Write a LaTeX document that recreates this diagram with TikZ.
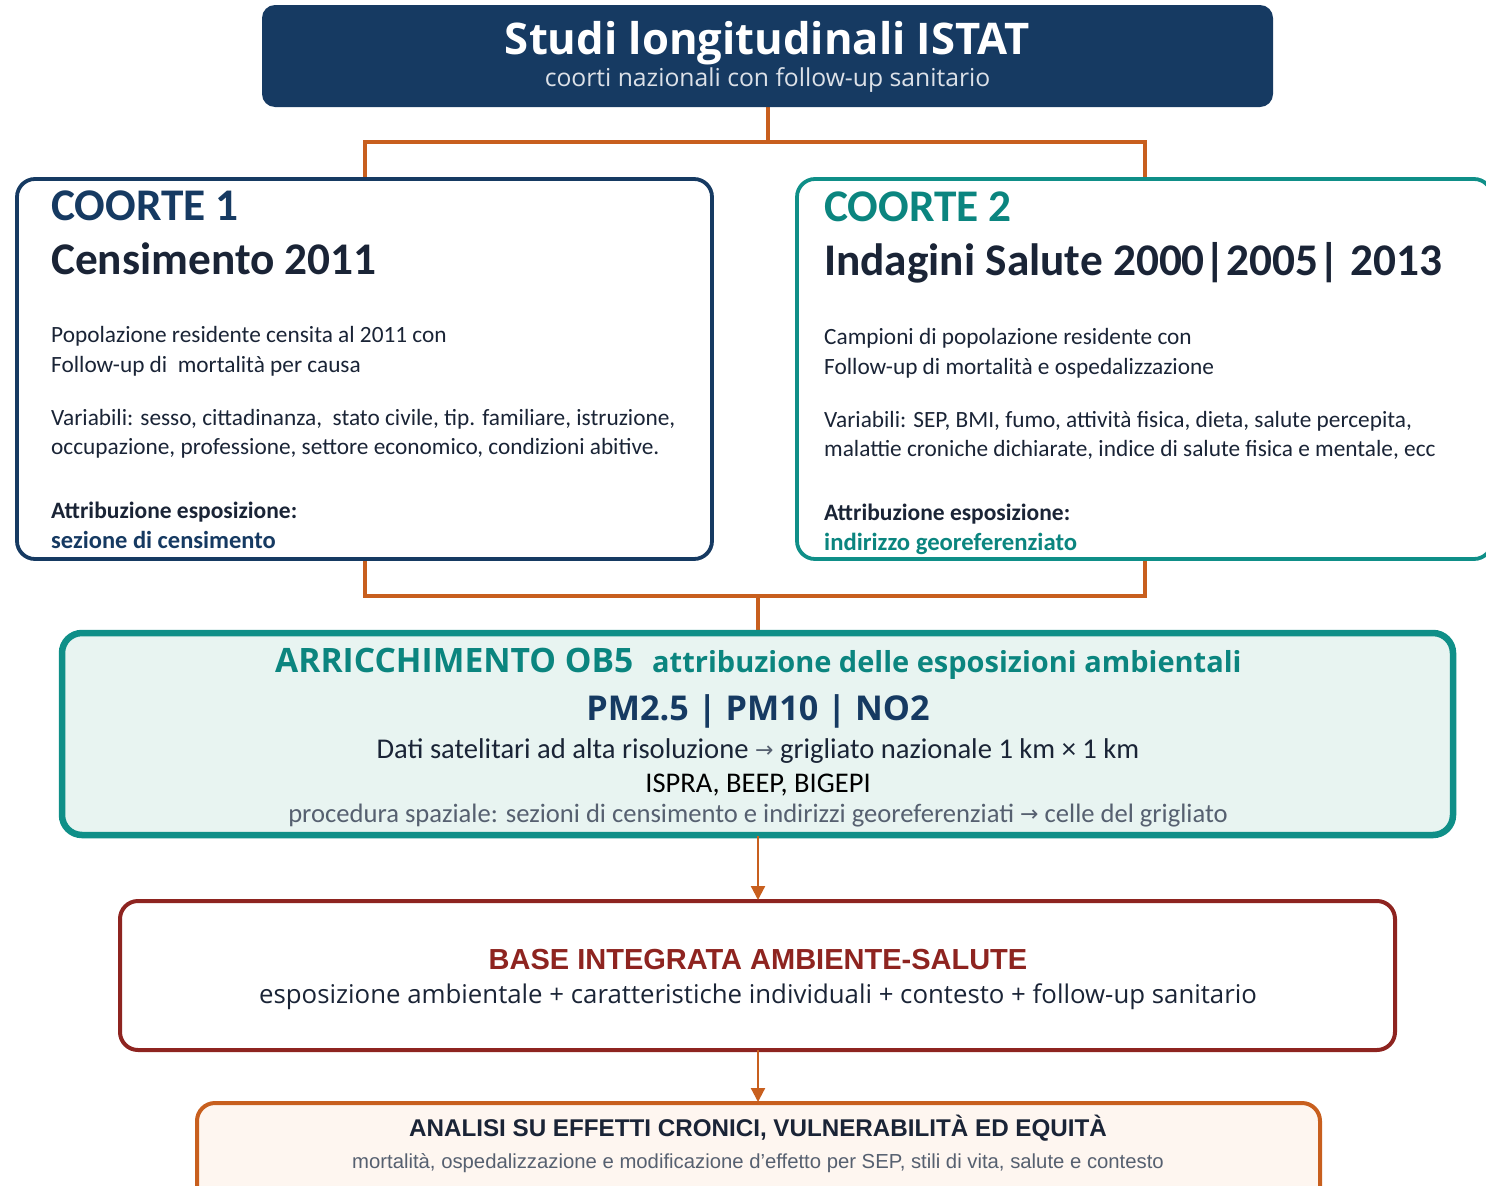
\documentclass[tikz,border=0pt]{standalone}
\usepackage{fontspec}
\usetikzlibrary{arrows.meta}
\setmainfont{Carlito}
\newfontfamily\opens{Open Sans}
\newfontfamily\liber{Liberation Sans}
\newfontfamily\djv{DejaVu Sans}
\definecolor{navy}{HTML}{163A62}
\definecolor{teal2}{HTML}{0F8F88}
\definecolor{tealtx}{HTML}{0B857F}
\definecolor{orng}{HTML}{C85F1E}
\definecolor{darkred}{HTML}{8E2420}
\definecolor{ink}{HTML}{1A2436}
\definecolor{lteal}{HTML}{E8F4F1}
\definecolor{cream}{HTML}{FEF6F0}
\definecolor{greytx}{HTML}{566070}
\newcommand{\fs}[1]{\fontsize{#1}{#1}\selectfont}
\newcommand{\smallarrow}{\raisebox{1pt}{\djv\fs{22}\color{greytx}→}}
\tikzset{
 x=1pt,y=-1pt,
 box/.style={rounded corners=#1,inner sep=0pt,outer sep=0pt,anchor=north west},
 txt/.style={inner sep=0pt,anchor=base west,text=ink},
 ctxt/.style={inner sep=0pt,anchor=base,text=ink},
 link/.style={draw=orng,line width=4pt},
 arr/.style={draw=orng,line width=2.2pt,-{Triangle[length=14pt,width=14pt]}},
}
\begin{document}
\begin{tikzpicture}
\useasboundingbox (0,0) rectangle (1486,1186);
% connectors first, boxes over them
\coordinate (j1) at (767.5,142);
\coordinate (jl) at (365,142);
\coordinate (jr) at (1145,142);
\coordinate (cl) at (365,178);
\coordinate (cr) at (1145,178);
\coordinate (tb) at (767.5,107);
\draw[link] (tb) -- (j1);
\draw[link,line join=miter] (cl) -- (jl) -- (jr) -- (cr);
\coordinate (bl) at (365,560);
\coordinate (br) at (1145,560);
\coordinate (ml) at (365,596);
\coordinate (mr) at (1145,596);
\coordinate (mm) at (758,596);
\coordinate (ot) at (758,632);
\draw[link,line join=miter] (bl) -- (ml) -- (mr) -- (br);
\draw[link] (mm) -- (ot);
\node[box=13pt,fill=navy,minimum width=1011pt,minimum height=102pt] (top) at (262,5) {};
\node[box=18pt,draw=navy,fill=white,line width=3.8pt,minimum width=695pt,minimum height=380pt] (c1) at (17,179) {};
\node[box=18pt,draw=teal2,fill=white,line width=3.8pt,minimum width=695pt,minimum height=380pt] (c2) at (797,179) {};
\node[box=20pt,draw=teal2,fill=lteal,line width=6.5pt,minimum width=1391pt,minimum height=202pt] (ob5) at (62,633) {};
\node[box=18pt,draw=darkred,fill=white,line width=4pt,minimum width=1275pt,minimum height=149pt] (base) at (120,901) {};
\node[box=18pt,draw=orng,fill=cream,line width=4pt,minimum width=1123pt,minimum height=120pt] (an) at (197,1103) {};
\coordinate (a1) at (758,836);
\coordinate (a2) at (758,900);
\coordinate (a3) at (758,1050);
\coordinate (a4) at (758,1102);
\draw[arr] (a1) -- (a2);
\draw[arr] (a3) -- (a4);
% title
\node[ctxt,text=white,font=\opens\bfseries\fs{43.6}] (t1) at (767.5,54) {Studi longitudinali ISTAT};
\node[ctxt,text=white!85!navy,font=\opens\fs{24.7}] (t2) at (767.5,86) {coorti nazionali con follow-up sanitario};
% c1
\node[txt,text=navy,font=\bfseries\fs{45.3}] (c1a) at (51,220) {COORTE 1};
\node[txt,font=\bfseries\fs{45.3}] (c1b) at (51,274) {Censimento 2011};
\node[txt,font=\fs{23.3}] (c1c) at (51,342) {Popolazione residente censita al 2011 con};
\node[txt,font=\fs{23.3}] (c1d) at (51,372) {Follow-up di\ \ mortalità per causa};
\node[txt,font=\fs{23.3}] (c1e) at (51,425) {Variabili: sesso, cittadinanza,\ \ stato civile, tip. familiare, istruzione,};
\node[txt,font=\fs{23.3}] (c1f) at (51,454) {occupazione, professione, settore economico, condizioni abitive.};
\node[txt,font=\bfseries\fs{23.5}] (c1g) at (51,518) {Attribuzione esposizione:};
\node[txt,text=navy,font=\bfseries\fs{24.5}] (c1h) at (51,548.5) {sezione di censimento};
% c2
\node[txt,text=tealtx,font=\bfseries\fs{45.3}] (c2a) at (824,221) {COORTE 2};
\node[txt,font=\bfseries\fs{45.3}] (c2b) at (824,275) {Indagini Salute 2000|2005|\ 2013};
\node[txt,font=\fs{23.3}] (c2c) at (824,344) {Campioni di popolazione residente con};
\node[txt,font=\fs{23.3}] (c2d) at (824,374) {Follow-up di mortalità e ospedalizzazione};
\node[txt,font=\fs{23.3}] (c2e) at (824,427) {Variabili: SEP, BMI, fumo, attività fisica, dieta, salute percepita,};
\node[txt,font=\fs{23.3}] (c2f) at (824,456) {malattie croniche dichiarate, indice di salute fisica e mentale, ecc};
\node[txt,font=\bfseries\fs{23.5}] (c2g) at (824,520) {Attribuzione esposizione:};
\node[txt,text=tealtx,font=\bfseries\fs{24.7}] (c2h) at (824,550.5) {indirizzo georeferenziato};
% ob5
\node[txt,text=tealtx,font=\opens\bfseries\fs{33.6}] (o1) at (275,672) {ARRICCHIMENTO OB5};
\node[txt,text=tealtx,font=\opens\bfseries\fs{29}] (o2) at (652,672) {attribuzione delle esposizioni ambientali};
\node[ctxt,text=navy,font=\opens\bfseries\fs{34.2}] (o3) at (758,720) {PM2.5 | PM10 | NO2};
\node[ctxt,font=\fs{28.6}] (o4) at (758,758) {Dati satelitari ad alta risoluzione \smallarrow{} grigliato nazionale 1 km × 1 km};
\node[ctxt,text=black,font=\fs{28.5}] (o5) at (758,792) {ISPRA, BEEP, BIGEPI};
\node[ctxt,text=greytx,font=\fs{26.6}] (o6) at (758,822) {procedura spaziale: sezioni di censimento e indirizzi georeferenziati \smallarrow{} celle del grigliato};
% base
\node[ctxt,text=darkred,font=\liber\bfseries\fs{29}] (b1) at (758,969) {BASE INTEGRATA AMBIENTE-SALUTE};
\node[ctxt,font=\opens\fs{25.8}] (b2) at (758,1003) {esposizione ambientale + caratteristiche individuali + contesto + follow-up sanitario};
% analisi
\node[ctxt,font=\liber\bfseries\fs{24.2}] (n1) at (758,1136) {ANALISI SU EFFETTI CRONICI, VULNERABILITÀ ED EQUITÀ};
\node[ctxt,text=greytx,font=\liber\fs{20.3}] (n2) at (758,1168) {mortalità, ospedalizzazione e modificazione d’effetto per SEP, stili di vita, salute e contesto};
\end{tikzpicture}
\end{document}
